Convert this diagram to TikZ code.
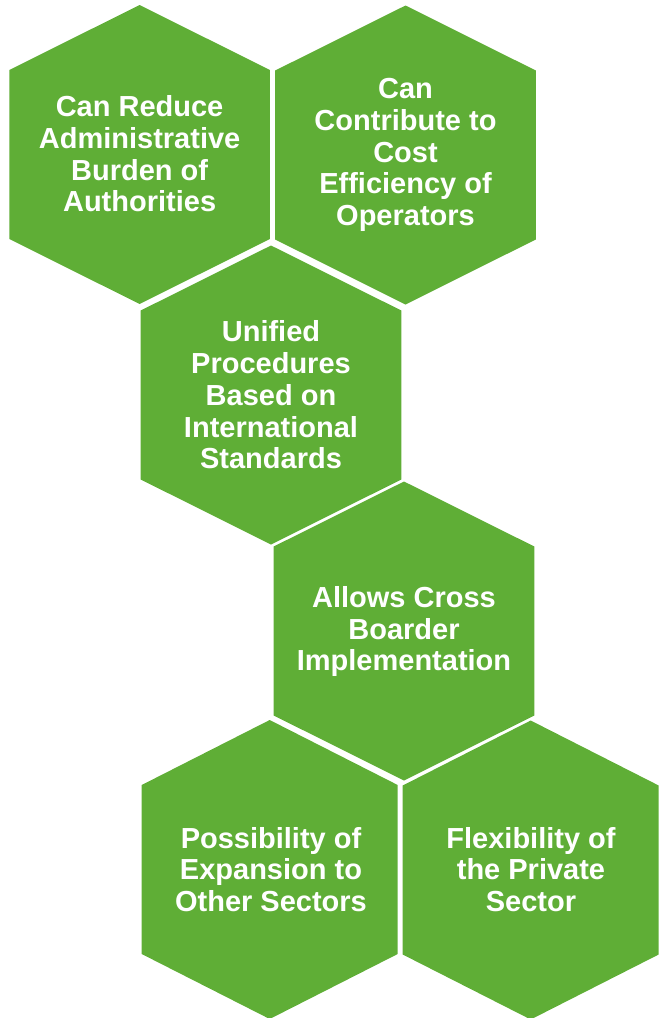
\documentclass[tikz,border=0pt]{standalone}
\usepackage{fontspec}
\setmainfont{Liberation Sans}
\definecolor{hexgreen}{RGB}{95,174,54}
\tikzset{
  hexa/.pic={\fill[hexgreen] (0,-149.5) -- (130.3,-84.5) -- (130.3,84.5) -- (0,149.5) -- (-130.3,84.5) -- (-130.3,-84.5) -- cycle;},
  hexb/.pic={\fill[hexgreen] (0,-149.5) -- (128,-84.5) -- (128,84.5) -- (0,149.5) -- (-128,84.5) -- (-128,-84.5) -- cycle;},
  hexlabel/.style={text=white,font=\bfseries\fontsize{29}{31.7}\selectfont,align=center,inner sep=0pt}
}
\begin{document}
\begin{tikzpicture}[x=1pt,y=-1pt]
\useasboundingbox (0,0) rectangle (659,1018);
\pic at (139.6,154.5) {hexa};
\pic at (405.5,155) {hexa};
\pic at (271,395) {hexa};
\pic at (404,631) {hexa};
\pic at (269.7,869.5) {hexb};
\pic at (530.7,870) {hexb};
\node[hexlabel] (h1) at (139.6,154) {Can Reduce\\Administrative\\Burden of\\Authorities};
\node[hexlabel] (h2) at (405.5,155) {Can\\Contribute to\\Cost\\Efficiency of\\Operators};
\node[hexlabel] (h3) at (271,395) {Unified\\Procedures\\Based on\\International\\Standards};
\node[hexlabel] (h4) at (404,631.5) {Allows Cross\\Boarder\\Implementation};
\node[hexlabel] (h5) at (271,869.5) {Possibility of\\Expansion to\\Other Sectors};
\node[hexlabel] (h6) at (531,869.5) {Flexibility of\\the Private\\Sector};
\end{tikzpicture}
\end{document}
